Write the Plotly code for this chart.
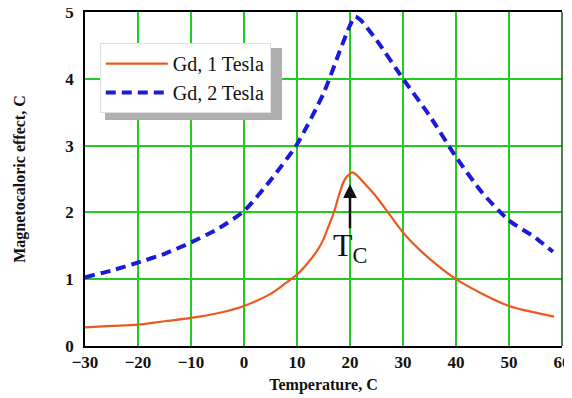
import plotly.graph_objects as go

# Data
t1 = [-30, -25, -20, -15, -10, -5, 0, 5, 8, 10, 12, 14, 15, 16, 17, 18, 19, 20, 20.5, 21.5, 23, 25, 27, 30, 33, 36, 40, 45, 50, 55, 58.5]
g1 = [0.28, 0.30, 0.32, 0.37, 0.42, 0.49, 0.60, 0.78, 0.95, 1.07, 1.24, 1.45, 1.60, 1.80, 2.01, 2.28, 2.49, 2.58, 2.60, 2.54, 2.41, 2.23, 2.02, 1.70, 1.45, 1.24, 1.00, 0.78, 0.60, 0.50, 0.44]

t2 = [-30, -25, -20, -15, -10, -5, 0, 5, 10, 15, 18, 20, 21, 22, 25, 30, 35, 40, 45, 50, 55, 58.3]
g2 = [1.03, 1.13, 1.25, 1.38, 1.55, 1.75, 2.02, 2.48, 3.02, 3.78, 4.40, 4.80, 4.93, 4.88, 4.58, 4.00, 3.45, 2.83, 2.29, 1.88, 1.62, 1.41]

x_ticks = [-30, -20, -10, 0, 10, 20, 30, 40, 50, 60]
x_tick_labels = ["−30", "−20", "−10", "0", "10", "20", "30", "40", "50", "60"]
y_ticks = [0, 1, 2, 3, 4, 5]
y_tick_labels = ["0", "1", "2", "3", "4", "5"]
tc_x = 20
tc_tip = 2.42
tc_tail = 1.74
tc_label_y = 1.48

serif = "Liberation Serif"

fig = go.Figure()
fig.add_trace(go.Scatter(x=t1, y=g1, mode="lines", name="Gd, 1 Tesla",
                         line=dict(color="#ea5a1e", width=2.2, shape="spline", smoothing=0.9)))
fig.add_trace(go.Scatter(x=t2, y=g2, mode="lines", name="Gd, 2 Tesla",
                         line=dict(color="#1a1ad8", width=4, dash="10px,6px", shape="spline", smoothing=0.6)))

fig.add_annotation(x=tc_x, y=tc_tip, ax=tc_x, ay=tc_tail, axref="x", ayref="y",
                   xref="x", yref="y", text="", showarrow=True,
                   arrowhead=2, arrowsize=1.1, arrowwidth=2.5, arrowcolor="#111111")
fig.add_annotation(x=tc_x, y=tc_label_y, xref="x", yref="y", showarrow=False,
                   text="T<sub>C</sub>", font=dict(family=serif, size=32, color="#111111"))

# legend drop shadow
fig.add_shape(type="rect", xref="paper", yref="paper",
              x0=0.042, x1=0.413, y0=0.677, y1=0.892,
              fillcolor="#b0b0b0", line=dict(width=0), layer="above")
# right border in dark green
fig.add_shape(type="line", xref="paper", yref="paper", x0=1, x1=1, y0=0, y1=1,
              line=dict(color="#0a5a0a", width=1.5))

# The page body has an 8px margin, so the figure is 8px smaller and margins shifted
fig.update_layout(
    width=564, height=390,
    margin=dict(l=77, r=10, t=4, b=52),
    paper_bgcolor="white", plot_bgcolor="white",
    showlegend=True,
    legend=dict(x=0.031, y=0.907, xanchor="left", yanchor="top",
                bgcolor="white", bordercolor="#e0e0e0", borderwidth=1,
                font=dict(family=serif, size=20, color="#111111"),
                tracegroupgap=0, itemwidth=62),
    font=dict(family=serif, color="#111111"),
)
fig.update_xaxes(range=[-30, 60], tickvals=x_ticks, ticktext=["<b>%s</b>" % s for s in x_tick_labels],
                 showgrid=True, gridcolor="#22cc22", gridwidth=1.5, automargin=False,
                 ticklabeloverflow="allow",
                 showline=True, linecolor="black", linewidth=1.5, mirror=True, zeroline=False,
                 ticks="", tickfont=dict(family=serif, size=17, color="#111111"),
                 title=dict(text="<b>Temperature, C</b>", font=dict(family=serif, size=16), standoff=8))
fig.update_yaxes(range=[0, 5], tickvals=y_ticks, ticktext=["<b>%s</b>" % s for s in y_tick_labels],
                 showgrid=True, gridcolor="#22cc22", gridwidth=1.5, automargin=False,
                 ticklabeloverflow="allow",
                 showline=True, linecolor="black", linewidth=1.5, zeroline=False,
                 ticks="", ticklabelstandoff=6,
                 tickfont=dict(family=serif, size=17, color="#111111"),
                 title=dict(text="<b>Magnetocaloric effect, C</b>", font=dict(family=serif, size=16), standoff=36))

fig.write_html("out.html")
